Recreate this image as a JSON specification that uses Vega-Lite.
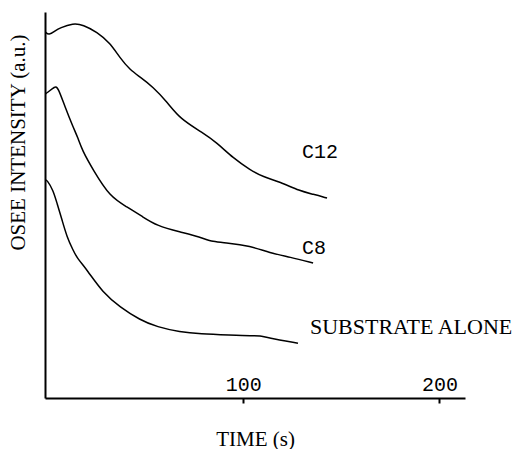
{
  "$schema": "https://vega.github.io/schema/vega-lite/v6.json",
  "width": 420,
  "height": 386,
  "autosize": {"type": "none"},
  "padding": {"left": 45, "top": 12, "right": 53, "bottom": 51},
  "background": "white",
  "config": {"view": {"stroke": null}},
  "datasets": {
    "curves": [
      {"series": "C12", "t": -0.8, "v": 94.8},
      {"series": "C12", "t": 1.0, "v": 94.0},
      {"series": "C12", "t": 4.1, "v": 95.1},
      {"series": "C12", "t": 6.6, "v": 95.9},
      {"series": "C12", "t": 13.3, "v": 97.1},
      {"series": "C12", "t": 18.4, "v": 96.7},
      {"series": "C12", "t": 25.5, "v": 94.8},
      {"series": "C12", "t": 32.1, "v": 92.0},
      {"series": "C12", "t": 37.2, "v": 88.1},
      {"series": "C12", "t": 42.3, "v": 85.0},
      {"series": "C12", "t": 47.4, "v": 83.2},
      {"series": "C12", "t": 54.0, "v": 80.6},
      {"series": "C12", "t": 61.2, "v": 76.7},
      {"series": "C12", "t": 67.8, "v": 72.3},
      {"series": "C12", "t": 79.5, "v": 68.7},
      {"series": "C12", "t": 86.6, "v": 66.1},
      {"series": "C12", "t": 94.8, "v": 62.2},
      {"series": "C12", "t": 103.5, "v": 59.1},
      {"series": "C12", "t": 110.1, "v": 57.3},
      {"series": "C12", "t": 118.7, "v": 56.0},
      {"series": "C12", "t": 128.9, "v": 53.6},
      {"series": "C12", "t": 135.6, "v": 52.8},
      {"series": "C12", "t": 142.7, "v": 51.8},

      {"series": "C8", "t": -0.8, "v": 78.8},
      {"series": "C8", "t": 0.0, "v": 79.0},
      {"series": "C8", "t": 4.1, "v": 80.8},
      {"series": "C8", "t": 5.6, "v": 80.5},
      {"series": "C8", "t": 9.2, "v": 75.4},
      {"series": "C8", "t": 13.3, "v": 70.2},
      {"series": "C8", "t": 15.8, "v": 67.4},
      {"series": "C8", "t": 17.9, "v": 64.2},
      {"series": "C8", "t": 23.5, "v": 59.1},
      {"series": "C8", "t": 32.1, "v": 52.1},
      {"series": "C8", "t": 40.8, "v": 49.5},
      {"series": "C8", "t": 48.9, "v": 46.9},
      {"series": "C8", "t": 56.1, "v": 44.6},
      {"series": "C8", "t": 67.8, "v": 43.0},
      {"series": "C8", "t": 78.0, "v": 41.7},
      {"series": "C8", "t": 84.6, "v": 40.4},
      {"series": "C8", "t": 91.7, "v": 40.2},
      {"series": "C8", "t": 103.5, "v": 39.4},
      {"series": "C8", "t": 113.6, "v": 37.6},
      {"series": "C8", "t": 123.8, "v": 36.5},
      {"series": "C8", "t": 135.6, "v": 35.0},

      {"series": "SUBSTRATE ALONE", "t": -0.8, "v": 56.5},
      {"series": "SUBSTRATE ALONE", "t": 0.0, "v": 56.5},
      {"series": "SUBSTRATE ALONE", "t": 3.1, "v": 53.9},
      {"series": "SUBSTRATE ALONE", "t": 5.1, "v": 50.5},
      {"series": "SUBSTRATE ALONE", "t": 7.7, "v": 46.1},
      {"series": "SUBSTRATE ALONE", "t": 10.2, "v": 41.7},
      {"series": "SUBSTRATE ALONE", "t": 13.3, "v": 38.3},
      {"series": "SUBSTRATE ALONE", "t": 15.3, "v": 36.3},
      {"series": "SUBSTRATE ALONE", "t": 20.4, "v": 33.2},
      {"series": "SUBSTRATE ALONE", "t": 28.6, "v": 27.2},
      {"series": "SUBSTRATE ALONE", "t": 37.2, "v": 23.6},
      {"series": "SUBSTRATE ALONE", "t": 47.4, "v": 20.2},
      {"series": "SUBSTRATE ALONE", "t": 56.1, "v": 18.4},
      {"series": "SUBSTRATE ALONE", "t": 67.8, "v": 17.1},
      {"series": "SUBSTRATE ALONE", "t": 78.0, "v": 16.6},
      {"series": "SUBSTRATE ALONE", "t": 93.3, "v": 16.3},
      {"series": "SUBSTRATE ALONE", "t": 105.0, "v": 16.1},
      {"series": "SUBSTRATE ALONE", "t": 108.5, "v": 16.2},
      {"series": "SUBSTRATE ALONE", "t": 112.1, "v": 15.6},
      {"series": "SUBSTRATE ALONE", "t": 127.9, "v": 14.2}
    ],
    "labels": [
      {"label": "C12", "t": 129.9, "v": 63.7, "face": "mono"},
      {"label": "C8", "t": 129.9, "v": 38.9, "face": "mono"},
      {"label": "SUBSTRATE ALONE", "t": 134.0, "v": 18.3, "face": "serif"}
    ]
  },
  "layer": [
    {
      "data": {"name": "curves"},
      "mark": {"type": "line", "color": "black", "strokeWidth": 1.5, "interpolate": "basis"},
      "encoding": {
        "x": {
          "field": "t",
          "type": "quantitative",
          "scale": {"domain": [-1, 213], "nice": false, "zero": false},
          "axis": {
            "title": "TIME (s)",
            "titleFont": "Liberation Serif",
            "titleFontSize": 21,
            "titleFontWeight": "normal",
            "titleColor": "black",
            "titleBaseline": "alphabetic",
            "titleY": 47,
            "values": [100, 200],
            "grid": false,
            "domainColor": "black",
            "domainWidth": 2,
            "tickColor": "black",
            "tickWidth": 2,
            "tickSize": 5,
            "labelFont": "Liberation Mono",
            "labelFontSize": 20,
            "labelColor": "black",
            "labelBaseline": "alphabetic",
            "labelPadding": -13
          }
        },
        "y": {
          "field": "v",
          "type": "quantitative",
          "scale": {"domain": [0, 100], "nice": false},
          "axis": {
            "title": "OSEE INTENSITY (a.u.)",
            "titleFont": "Liberation Serif",
            "titleFontSize": 21,
            "titleFontWeight": "normal",
            "titleColor": "black",
            "titleAngle": -90,
            "titleAlign": "center",
            "titleBaseline": "alphabetic",
            "titleX": -21,
            "titleY": 130,
            "labels": false,
            "ticks": false,
            "grid": false,
            "domainColor": "black",
            "domainWidth": 2
          }
        },
        "detail": {"field": "series"}
      }
    },
    {
      "data": {"name": "labels"},
      "transform": [{"filter": "datum.face === 'mono'"}],
      "mark": {"type": "text", "align": "left", "baseline": "middle", "font": "Liberation Mono", "fontSize": 20, "color": "black"},
      "encoding": {
        "x": {"field": "t", "type": "quantitative"},
        "y": {"field": "v", "type": "quantitative"},
        "text": {"field": "label"}
      }
    },
    {
      "data": {"name": "labels"},
      "transform": [{"filter": "datum.face === 'serif'"}],
      "mark": {"type": "text", "align": "left", "baseline": "middle", "font": "Liberation Serif", "fontSize": 22, "color": "black"},
      "encoding": {
        "x": {"field": "t", "type": "quantitative"},
        "y": {"field": "v", "type": "quantitative"},
        "text": {"field": "label"}
      }
    }
  ]
}
